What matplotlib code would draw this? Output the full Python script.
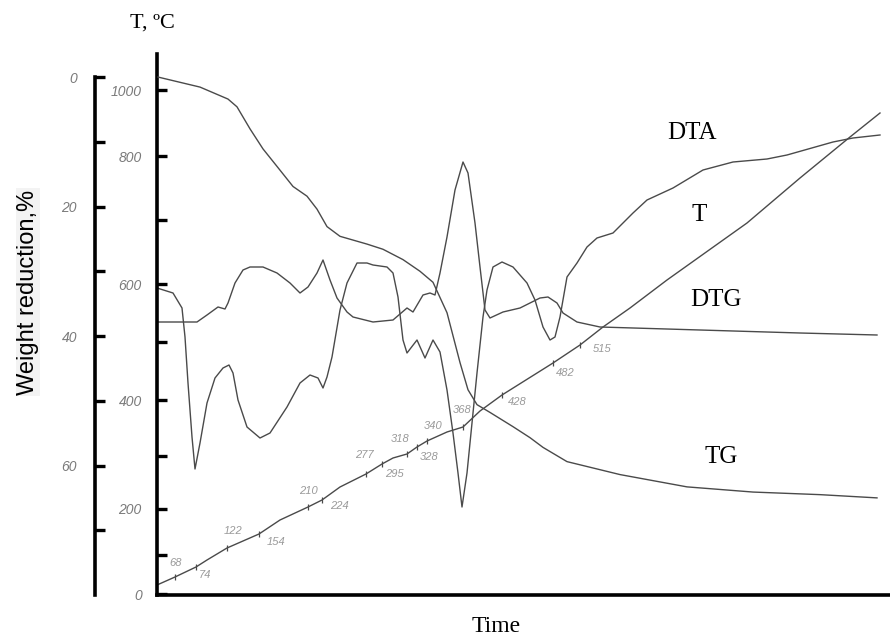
import matplotlib
matplotlib.use("Agg")
import matplotlib.pyplot as plt

# ---- data (time in arbitrary units) ----
# DTA signal (arbitrary units)
dta_x = [0.0, 1.6, 2.5, 2.8, 3.1, 3.5, 3.8, 4.3, 5.0, 5.8, 6.6, 7.2, 7.6, 8.1, 9.0, 10.3,
         11.3, 13.0, 14.3, 15.3, 16.1, 16.6, 17.0, 17.5, 18.3, 19.0, 20.0, 21.0, 21.6, 23.0,
         23.6, 24.1, 24.6, 25.0, 26.0, 26.8, 27.6, 28.3, 29.0, 29.6, 30.1, 30.5, 31.0, 31.5,
         32.0, 32.6, 33.0, 33.6, 34.5, 35.6, 37.0, 37.8, 38.6, 39.3, 39.8, 40.3, 41.0, 42.0,
         43.0, 44.0, 45.6, 47.6, 49.0, 51.6, 54.6, 57.6, 61.0, 63.0, 67.6, 69.6, 72.3]
dta_y = [30.7, 30.2, 28.7, 25.8, 21.2, 15.8, 12.6, 15.2, 19.2, 21.7, 22.7, 23.0, 22.2, 19.5,
         16.8, 15.7, 16.2, 18.8, 21.2, 22.0, 21.7, 20.7, 21.8, 23.8, 28.5, 31.2, 33.2, 33.2,
         33.0, 32.8, 32.2, 29.8, 25.5, 24.2, 25.5, 23.7, 25.5, 24.3, 20.5, 16.2, 12.2, 8.8,
         12.2, 17.2, 22.2, 27.8, 30.5, 32.8, 33.3, 32.8, 31.2, 29.5, 26.8, 25.5, 25.8, 27.8,
         31.8, 33.2, 34.8, 35.7, 36.2, 38.2, 39.5, 40.7, 42.5, 43.3, 43.6, 44.0, 45.3, 45.7,
         46.0]

# DTG signal (arbitrary units)
dtg_x = [0.0, 4.0, 5.0, 6.1, 6.8, 7.1, 7.8, 8.6, 9.3, 10.6, 12.0, 13.3, 14.3, 15.1, 16.0,
         16.6, 17.3, 18.0, 19.0, 19.6, 21.6, 23.6, 25.0, 25.6, 26.6, 27.3, 27.8, 28.3, 29.0,
         29.8, 30.6, 31.1, 31.8, 32.3, 32.8, 33.3, 34.6, 36.3, 38.3, 39.1, 40.0, 40.6, 42.0,
         44.3, 54.3, 64.3, 72.0]
dtg_y = [27.3, 27.3, 28.0, 28.8, 28.6, 29.2, 31.2, 32.5, 32.8, 32.8, 32.2, 31.2, 30.2, 30.8,
         32.2, 33.5, 31.5, 29.7, 28.3, 27.8, 27.3, 27.5, 28.7, 28.3, 30.0, 30.2, 30.0, 32.2,
         35.8, 40.5, 43.3, 42.2, 37.2, 32.8, 28.5, 27.7, 28.3, 28.7, 29.7, 29.8, 29.2, 28.2,
         27.3, 26.8, 26.5, 26.2, 26.0]

# TG, weight reduction in %
tg_x = [0.1, 4.3, 7.1, 8.0, 9.3, 10.6, 12.0, 13.6, 15.0, 16.0, 17.0, 18.3, 21.0, 22.6,
        24.6, 26.3, 27.6, 29.0, 30.3, 31.1, 32.0, 33.3, 35.6, 37.3, 38.6, 41.0, 46.3, 53.0,
        59.6, 66.3, 72.0]
tg_w = [0.0, 1.55, 3.4, 4.6, 8.0, 11.1, 13.8, 16.9, 18.4, 20.4, 23.1, 24.6, 25.8, 26.6,
        28.2, 30.0, 31.7, 36.4, 44.1, 48.3, 50.6, 51.8, 54.0, 55.7, 57.2, 59.4, 61.4, 63.3,
        64.1, 64.5, 65.0]

# T curve
t_x = [0.0, 1.8, 3.9, 5.0, 7.0, 10.2, 12.3, 15.1, 16.5, 18.3, 20.9, 22.5, 23.6, 25.0, 26.0,
       27.0, 29.0, 30.6, 32.3, 34.5, 39.6, 42.3, 44.6, 47.3, 51.0, 59.0, 64.3, 69.3, 72.3]
t_y = [1.0, 1.8, 2.8, 3.5, 4.7, 6.1, 7.5, 8.8, 9.5, 10.8, 12.1, 13.1, 13.7, 14.1, 14.8,
       15.4, 16.3, 16.8, 18.4, 20.0, 23.2, 25.0, 26.8, 28.7, 31.5, 37.2, 41.7, 45.8, 48.2]

# temperature readings marked along the T curve
mark_x = [1.8, 3.9, 7.0, 10.2, 15.1, 16.5, 20.9, 22.5, 25.0, 26.0, 27.0, 30.6, 34.5, 39.6, 42.3]
mark_y = [1.8, 2.8, 4.7, 6.1, 8.8, 9.5, 12.1, 13.1, 14.1, 14.8, 15.4, 16.8, 20.0, 23.2, 25.0]
mark_lbl = ["68", "74", "122", "154", "210", "224", "277", "295", "318", "328", "340",
            "368", "428", "482", "515"]

# inner temperature scale (non linear) and outer weight scale
t_ticks = [50.5, 43.9, 37.5, 31.1, 25.3, 19.5, 13.9, 8.6, 4.0, 0.1]
t_tick_lbl = ["1000", "800", "", "600", "", "400", "", "200", "", "0"]
w_ticks = [0, 10, 20, 30, 40, 50, 60, 70]
w_tick_lbl = ["0", "", "20", "", "40", "", "60", ""]

# label offsets (pixels) for the marked temperatures
mark_off = [(1, 14), (9, -8), (6, 17), (17, -8), (0, 16), (17, -6), (-2, 19), (12, -10),
            (-7, 15), (12, -10), (6, 15), (-1, 17), (15, -7), (12, -10), (22, -4)]

W, H = 890, 635
line_col = "#4a4a4a"
num_font = ["Liberation Sans Narrow", "Liberation Sans", "DejaVu Sans"]
serif = ["Liberation Serif", "DejaVu Serif"]
line_kw = dict(color=line_col, lw=1.0, solid_joinstyle="round")

fig = plt.figure(figsize=(W / 100, H / 100), dpi=100)
ax = fig.add_axes([157 / W, 40 / H, 733 / W, 541 / H])
ax.set_xlim(0, 73.3)
ax.set_ylim(0, 54.1)

# curves
ax.plot(dta_x, dta_y, **line_kw)
ax.plot(dtg_x, dtg_y, **line_kw)
ax.plot(t_x, t_y, **line_kw)
ax.plot(mark_x, mark_y, ls="none", marker="|", ms=5, mew=0.9, color=line_col)
for x, y, s, off in zip(mark_x, mark_y, mark_lbl, mark_off):
    ax.annotate(s, (x, y), xytext=off, textcoords="offset pixels", ha="center",
                va="center", fontsize=8, style="italic", color="#9a9a9a", family=num_font)

# inner axis: temperature
for s in ["top", "right"]:
    ax.spines[s].set_visible(False)
ax.spines["left"].set_linewidth(2.6)
ax.spines["bottom"].set_linewidth(2.6)
ax.set_xticks([])
ax.set_yticks(t_ticks)
ax.set_yticklabels(t_tick_lbl, fontsize=10, style="italic", color="#7a7a7a", family=num_font)
ax.tick_params(axis="y", direction="in", length=7.5, width=2.4, pad=11)

# outer axis: weight reduction
ax2 = ax.twinx()
ax2.set_ylim(80.0, -3.56)
ax2.plot(tg_x, tg_w, **line_kw)
for s in ["top", "right", "bottom"]:
    ax2.spines[s].set_visible(False)
ax2.spines["left"].set_visible(True)
ax2.spines["left"].set_position(("axes", -62 / 733))
ax2.spines["left"].set_linewidth(2.6)
ax2.spines["left"].set_bounds(0, 80)
ax2.yaxis.set_ticks_position("left")
ax2.yaxis.set_label_position("left")
ax2.set_yticks(w_ticks)
ax2.set_yticklabels(w_tick_lbl, fontsize=10, style="italic", color="#7a7a7a", family=num_font)
ax2.tick_params(axis="y", direction="in", length=7.5, width=2.4, pad=13)

# texts
fig.text(28 / W, 1 - 292 / H, "Weight reduction,%", rotation=90, ha="center", va="center",
         fontsize=17, family=["Liberation Sans", "DejaVu Sans"],
         bbox=dict(facecolor="#f3f3f3", edgecolor="none", pad=1))
fig.text(152 / W, 1 - 23 / H, "T, ºC", ha="center", va="center", fontsize=16, family=serif)
fig.text(496 / W, 1 - 626 / H, "Time", ha="center", va="center", fontsize=17, family=serif)
fig.text(692 / W, 1 - 133 / H, "DTA", ha="center", va="center", fontsize=18, family=serif)
fig.text(699 / W, 1 - 215 / H, "T", ha="center", va="center", fontsize=18, family=serif)
fig.text(716 / W, 1 - 300 / H, "DTG", ha="center", va="center", fontsize=18, family=serif)
fig.text(721 / W, 1 - 457 / H, "TG", ha="center", va="center", fontsize=18, family=serif)

fig.savefig("out.png", dpi=100)
